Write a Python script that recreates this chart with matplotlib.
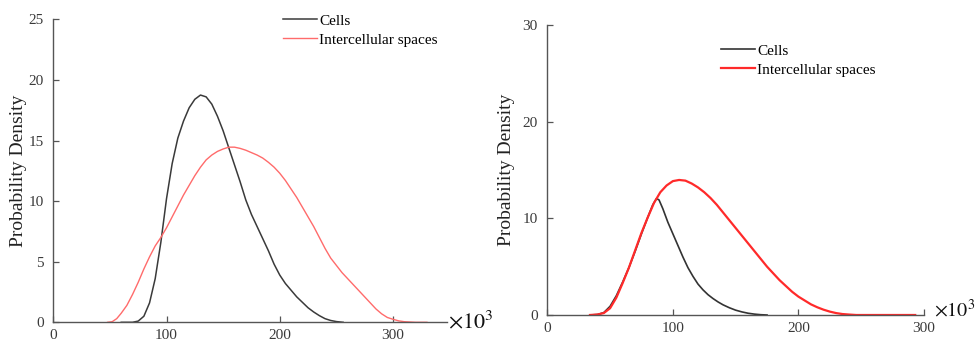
import matplotlib
matplotlib.use("Agg")
import matplotlib.pyplot as plt

plt.rcParams['font.family'] = ['Liberation Serif', 'DejaVu Serif']
plt.rcParams['mathtext.fontset'] = 'stix'

# Left panel data (x in units of 10^3)
left_cells_x = [60, 70, 75, 80, 85, 90, 95, 100, 105, 110, 115, 120, 125, 130, 135, 140, 145, 150, 155, 160, 165,
                170, 175, 180, 185, 190, 195, 200, 205, 210, 215, 220, 225, 230, 235, 240, 245, 250, 256]
left_cells_y = [0, 0, 0.1, 0.5, 1.6, 3.6, 6.6, 10.2, 13.1, 15.2, 16.6, 17.7, 18.4, 18.75, 18.6, 18.0, 17.0, 15.8,
                14.4, 13.0, 11.6, 10.1, 8.9, 7.9, 6.9, 5.9, 4.8, 3.9, 3.2, 2.65, 2.1, 1.65, 1.2, 0.85, 0.55, 0.3,
                0.15, 0.06, 0]
left_inter_x = [48, 52, 56, 60, 65, 70, 75, 80, 85, 90, 95, 100, 105, 110, 115, 120, 125, 130, 135, 140, 145, 150,
                155, 160, 165, 170, 175, 180, 185, 190, 195, 200, 205, 210, 215, 220, 225, 230, 235, 240, 245, 250,
                255, 260, 265, 270, 275, 280, 285, 290, 295, 300, 305, 310, 320, 330]
left_inter_y = [0, 0.05, 0.3, 0.75, 1.4, 2.3, 3.3, 4.4, 5.4, 6.3, 7.0, 7.8, 8.7, 9.6, 10.5, 11.3, 12.1, 12.8, 13.4,
                13.8, 14.1, 14.3, 14.45, 14.45, 14.35, 14.2, 14.0, 13.8, 13.55, 13.2, 12.8, 12.3, 11.7, 11.0, 10.3,
                9.5, 8.7, 7.9, 7.0, 6.1, 5.3, 4.7, 4.1, 3.6, 3.1, 2.6, 2.1, 1.6, 1.1, 0.7, 0.4, 0.25, 0.12, 0.05,
                0, 0]

# Right panel data
right_cells_x = [34, 40, 45, 50, 55, 60, 65, 70, 75, 80, 84, 87, 89, 92, 96, 100, 104, 108, 112, 116, 120, 124, 128,
                 132, 136, 140, 145, 150, 155, 160, 165, 170, 175]
right_cells_y = [0, 0.05, 0.25, 0.9, 2.0, 3.4, 4.9, 6.6, 8.4, 10.1, 11.4, 12.05, 11.9, 11.0, 9.6, 8.4, 7.2, 6.0, 4.9,
                 4.0, 3.2, 2.6, 2.1, 1.7, 1.35, 1.05, 0.75, 0.5, 0.32, 0.18, 0.09, 0.03, 0]
right_inter_x = [34, 40, 45, 50, 55, 60, 65, 70, 75, 80, 85, 90, 95, 100, 105, 110, 115, 120, 125, 130, 135, 140,
                 145, 150, 155, 160, 165, 170, 175, 180, 185, 190, 195, 200, 205, 210, 215, 220, 225, 230, 235, 240,
                 246, 293]
right_inter_y = [0, 0.05, 0.2, 0.7, 1.8, 3.3, 4.9, 6.7, 8.5, 10.1, 11.6, 12.7, 13.4, 13.85, 13.97, 13.9, 13.6, 13.2,
                 12.7, 12.1, 11.4, 10.6, 9.8, 9.0, 8.2, 7.4, 6.6, 5.8, 5.0, 4.3, 3.6, 3.0, 2.4, 1.9, 1.5, 1.1, 0.8,
                 0.55, 0.35, 0.2, 0.1, 0.05, 0, 0]

labels = ["Cells", "Intercellular spaces"]
left_xticks = [0, 100, 200, 300]
left_yticks = [0, 5, 10, 15, 20, 25]
right_xticks = [0, 100, 200, 300]
right_yticks = [0, 10, 20, 30]

fig = plt.figure(figsize=(9.79, 3.42), dpi=100)
axL = fig.add_axes([53.3/979, 19.7/342, 394/979, 303/342])
axR = fig.add_axes([547.3/979, 27/342, 376.7/979, 290/342])

spine_c = '#555555'
tick_c = '#3a3a3a'

for ax in (axL, axR):
    for s in ('top', 'right'):
        ax.spines[s].set_visible(False)
    for s in ('left', 'bottom'):
        ax.spines[s].set_color(spine_c)
        ax.spines[s].set_linewidth(1.0)
    ax.tick_params(direction='in', length=4, width=0.9, color=spine_c,
                   labelcolor=tick_c, labelsize=11, pad=5)
    ax.tick_params(axis='y', pad=7)
    ax.set_ylabel("Probability Density", fontsize=14, color='#222222')

axL.yaxis.set_label_coords(-26/394, 0.5)
axR.yaxis.set_label_coords(-32/376.7, 0.5)

axL.plot(left_cells_x, left_cells_y, color='#3a3a3a', lw=1.1, label=labels[0])
axL.plot(left_inter_x, left_inter_y, color='#ff6b6b', lw=1.0, label=labels[1])
axL.set_xlim(0, 348)
axL.set_ylim(0, 25)
axL.set_xticks(left_xticks)
axL.set_yticks(left_yticks)

axR.plot(right_cells_x, right_cells_y, color='#333333', lw=1.2, label=labels[0])
axR.plot(right_inter_x, right_inter_y, color='#ff2a2a', lw=1.6, label=labels[1])
axR.set_xlim(0, 300)
axR.set_ylim(0, 30)
axR.set_xticks(right_xticks)
axR.set_yticks(right_yticks)

leg_kw = dict(frameon=False, fontsize=11, handlelength=2.2, handletextpad=0.15,
              labelspacing=0.35, borderpad=0, borderaxespad=0, bbox_transform=fig.transFigure,
              loc='upper left')
axL.legend(bbox_to_anchor=(283/979, 1 - 14/342), **leg_kw)
axR.legend(bbox_to_anchor=(721/979, 1 - 44/342), **leg_kw)

fig.text(448/979, 1 - 322/342, r'$\times10^3$', fontsize=16, va='center', ha='left', color='#111111')
fig.text(934/979, 1 - 311/342, r'$\times10^3$', fontsize=14.5, va='center', ha='left', color='#111111')

fig.savefig("out.png", dpi=100)
